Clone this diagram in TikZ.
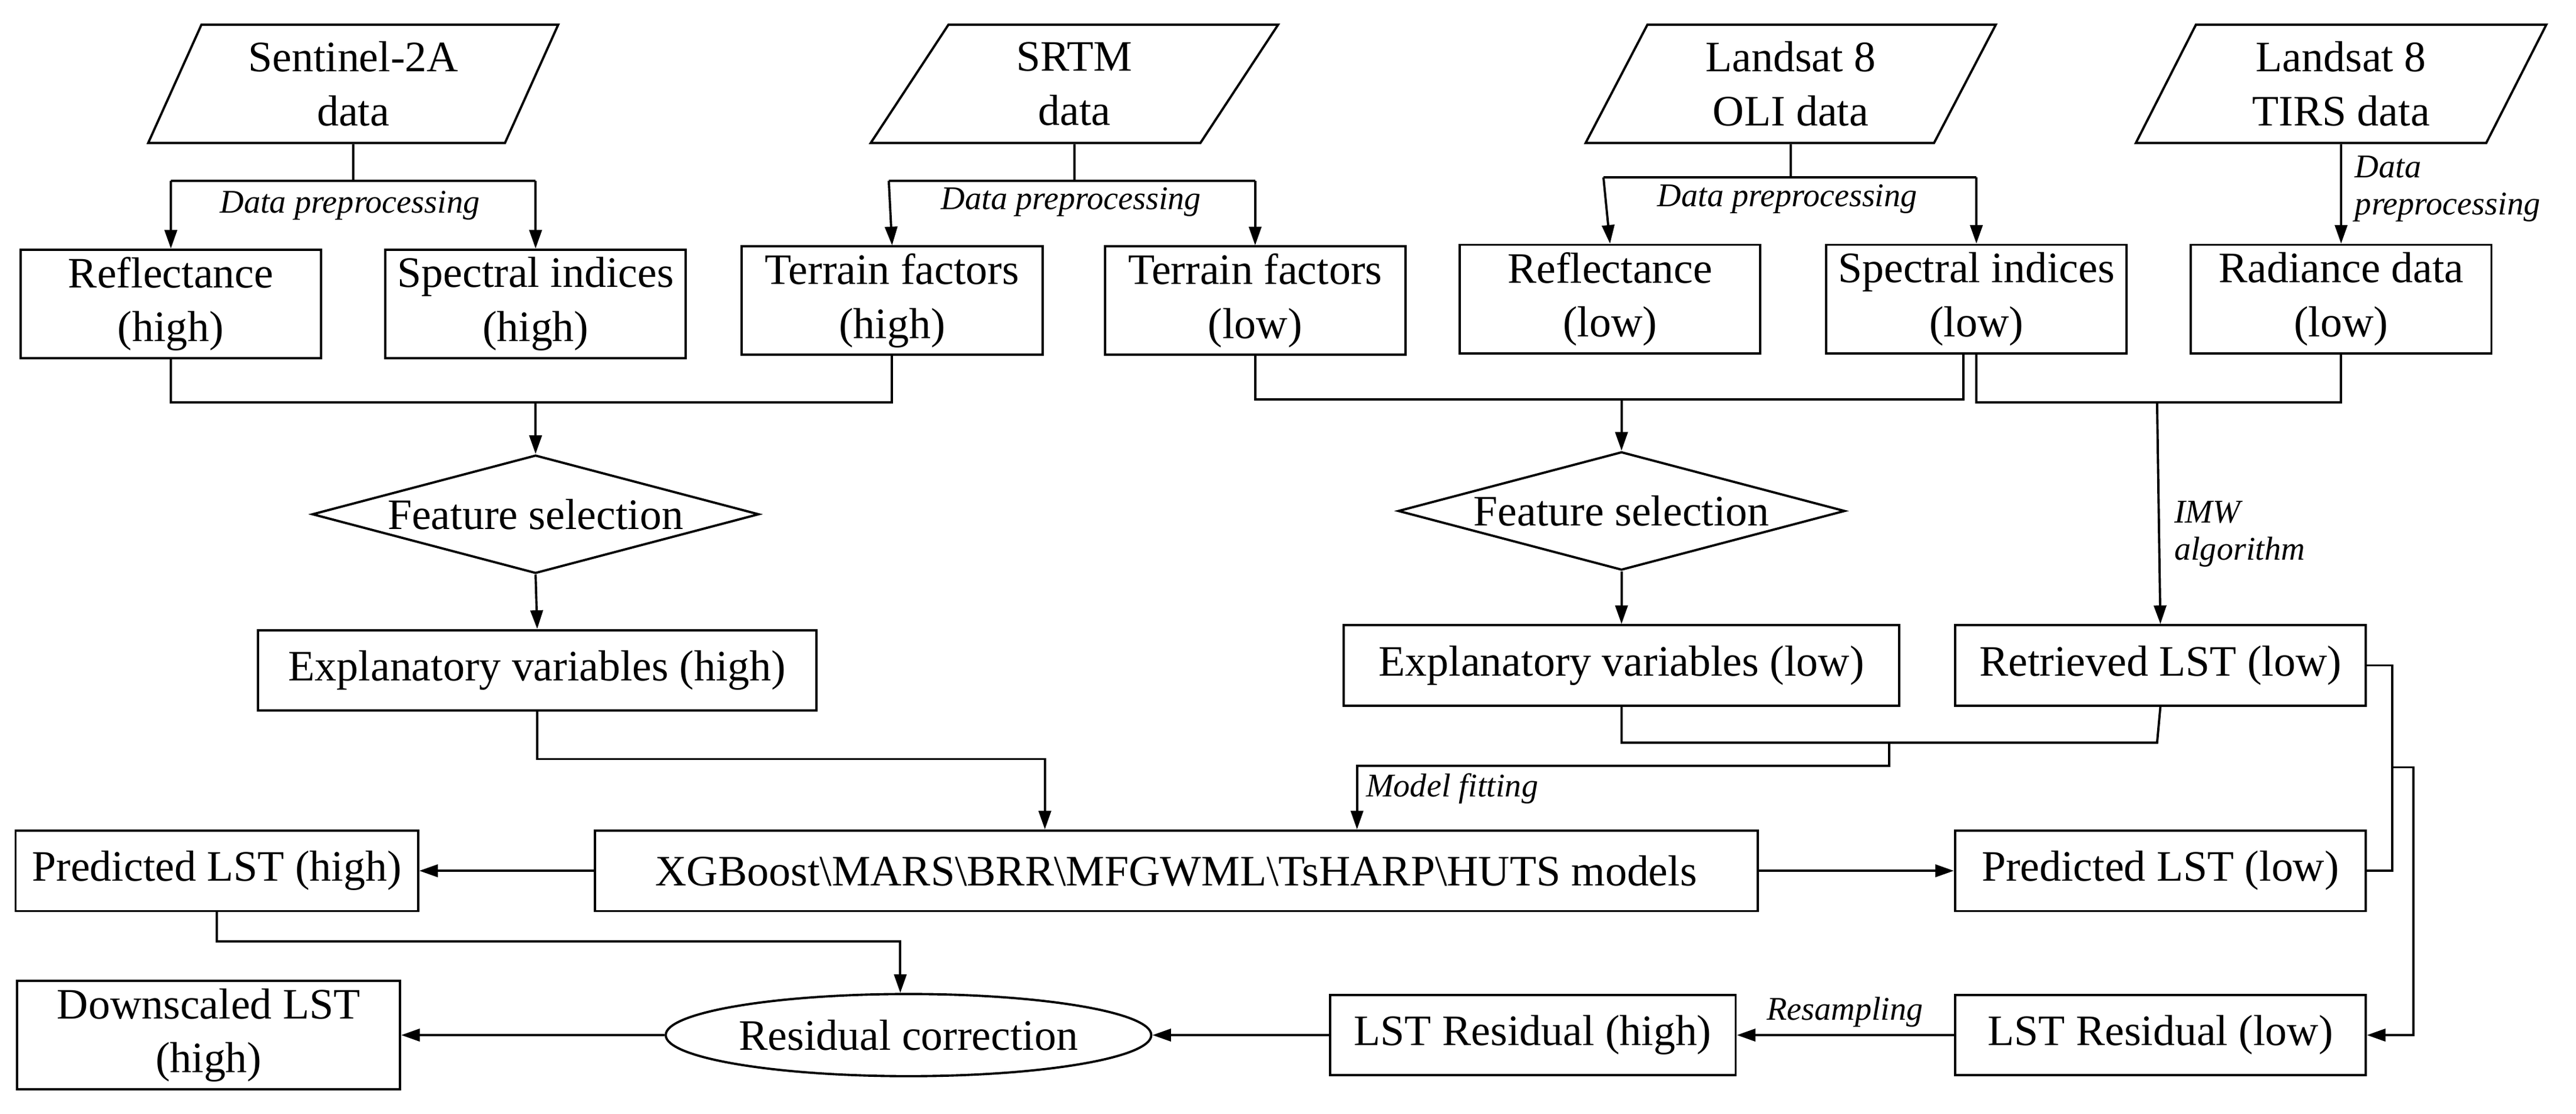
\documentclass[tikz,border=0pt]{standalone}
\usepackage{fontspec}
\setmainfont{Liberation Serif}
\usetikzlibrary{shapes.geometric,arrows.meta}
\def\u{0.02789cm}
\tikzset{
  base/.style={draw, line width=1.1pt, align=center, inner sep=1pt,
    font=\fontsize{21}{26}\selectfont},
  box/.style={base, rectangle, minimum width=183*\u, minimum height=66*\u},
  wbox/.style={base, rectangle, minimum height=49*\u},
  data/.style={base, trapezium, trapezium left angle=67, trapezium right angle=113,
    trapezium stretches=true, minimum width=250*\u, minimum height=72*\u},
  decide/.style={base, diamond, aspect=3.8, minimum width=272*\u, minimum height=72*\u, inner sep=0pt},
  note/.style={font=\itshape\fontsize{16}{18}\selectfont, inner sep=1pt},
  line/.style={line width=1.1pt},
  flow/.style={line, -{Triangle[length=9pt,width=6pt]}}
}
\begin{document}
\begin{tikzpicture}[x=\u, y=-\u]
\useasboundingbox (0,0) rectangle (1568,678);

% inputs
\node[data] (s2) at (215,51) {Sentinel-2A\\data};
\node[data] (srtm) at (654,51) {SRTM\\data};
\node[data] (oli) at (1090,51) {Landsat 8\\OLI data};
\node[data] (tirs) at (1425,51) {Landsat 8\\TIRS data};

% preprocessed data
\node[box] (refh) at (104,185) {Reflectance\\(high)};
\node[box] (spih) at (326,185) {Spectral indices\\(high)};
\node[box] (terh) at (543,183) {Terrain factors\\(high)};
\node[box] (terl) at (764,183) {Terrain factors\\(low)};
\node[box] (refl) at (980,182) {Reflectance\\(low)};
\node[box] (spil) at (1203,182) {Spectral indices\\(low)};
\node[box] (rad) at (1425,182) {Radiance data\\(low)};

\node[decide] (fsh) at (326,313) {Feature selection};
\node[decide] (fsl) at (987,311) {Feature selection};

\node[wbox, minimum width=340*\u] (exh) at (327,408) {Explanatory variables (high)};
\node[wbox, minimum width=338*\u] (exl) at (987,405) {Explanatory variables (low)};
\node[wbox, minimum width=250*\u] (ret) at (1315,405) {Retrieved LST (low)};

\node[wbox, minimum width=708*\u] (mod) at (716,530) {XGBoost\textbackslash MARS\textbackslash BRR\textbackslash MFGWML\textbackslash TsHARP\textbackslash HUTS models};
\node[wbox, minimum width=245*\u] (prh) at (132,530) {Predicted LST (high)};
\node[wbox, minimum width=250*\u] (prl) at (1315,530) {Predicted LST (low)};

\node[wbox, minimum width=250*\u] (resl) at (1315,630) {LST Residual (low)};
\node[wbox, minimum width=247*\u] (resh) at (933,630) {LST Residual (high)};
\node[base, ellipse, minimum width=270*\u, minimum height=50*\u] (corr) at (553,630) {Residual correction};
\node[box, minimum width=233*\u] (down) at (127,630) {Downscaled LST\\(high)};

% preprocessing branches
\draw[line] (s2.south) -- (215,110);
\draw[line] (104,110) -- (326,110);
\draw[flow] (104,110) -- (refh.north);
\draw[flow] (326,110) -- (spih.north);
\node[note] at (213,125) {Data preprocessing};

\draw[line] (srtm.south) -- (654,110);
\draw[line] (541,110) -- (764,110);
\draw[flow] (541,110) -- (terh.north);
\draw[flow] (764,110) -- (terl.north);
\node[note] at (652,123) {Data preprocessing};

\draw[line] (oli.south) -- (1090,108);
\draw[line] (976,108) -- (1203,108);
\draw[flow] (976,108) -- (refl.north);
\draw[flow] (1203,108) -- (spil.north);
\node[note] at (1088,121) {Data preprocessing};

\draw[flow] (tirs.south) -- (rad.north);
\node[note, align=left, anchor=west] at (1432,115) {Data\\preprocessing};

% feature selection
\draw[line] (refh.south) |- (326,245) -| (terh.south);
\draw[flow] (326,245) -- (fsh.north);
\draw[flow] (fsh.south) -- (exh.north);

\draw[line] (terl.south) |- (987,243) -| (1195,215);
\draw[flow] (987,243) -- (fsl.north);
\draw[flow] (fsl.south) -- (exl.north);

% LST retrieval
\draw[line] (1203,215) |- (1313,245) -| (rad.south);
\draw[flow] (1313,245) -- (ret.north);
\node[note, align=left, anchor=west] at (1322,325) {IMW\\algorithm};

% model fitting
\draw[flow] (exh.south) |- (636,462) -- (636,0 |- mod.north);
\draw[line] (exl.south) |- (1313,452) -- (ret.south);
\coordinate (mf) at (1150,452);
\draw[flow] (mf) |- (826,466) -- (826,0 |- mod.north);
\node[note, anchor=west] at (830,480) {Model fitting};

\draw[flow] (mod.west) -- (prh.east);
\draw[flow] (mod.east) -- (prl.west);

% residuals
\draw[line] (ret.east) -| (1456,530) -- (prl.east);
\draw[flow] (1456,467) -| (1469,630) -- (resl.east);
\draw[flow] (resl.west) -- (resh.east);
\node[note] at (1123,616) {Resampling};
\draw[flow] (resh.west) -- (corr.east);
\draw[flow] (prh.south) |- (548,573) -- (548,0 |- corr.north);
\draw[flow] (corr.west) -- (down.east);
\end{tikzpicture}
\end{document}
